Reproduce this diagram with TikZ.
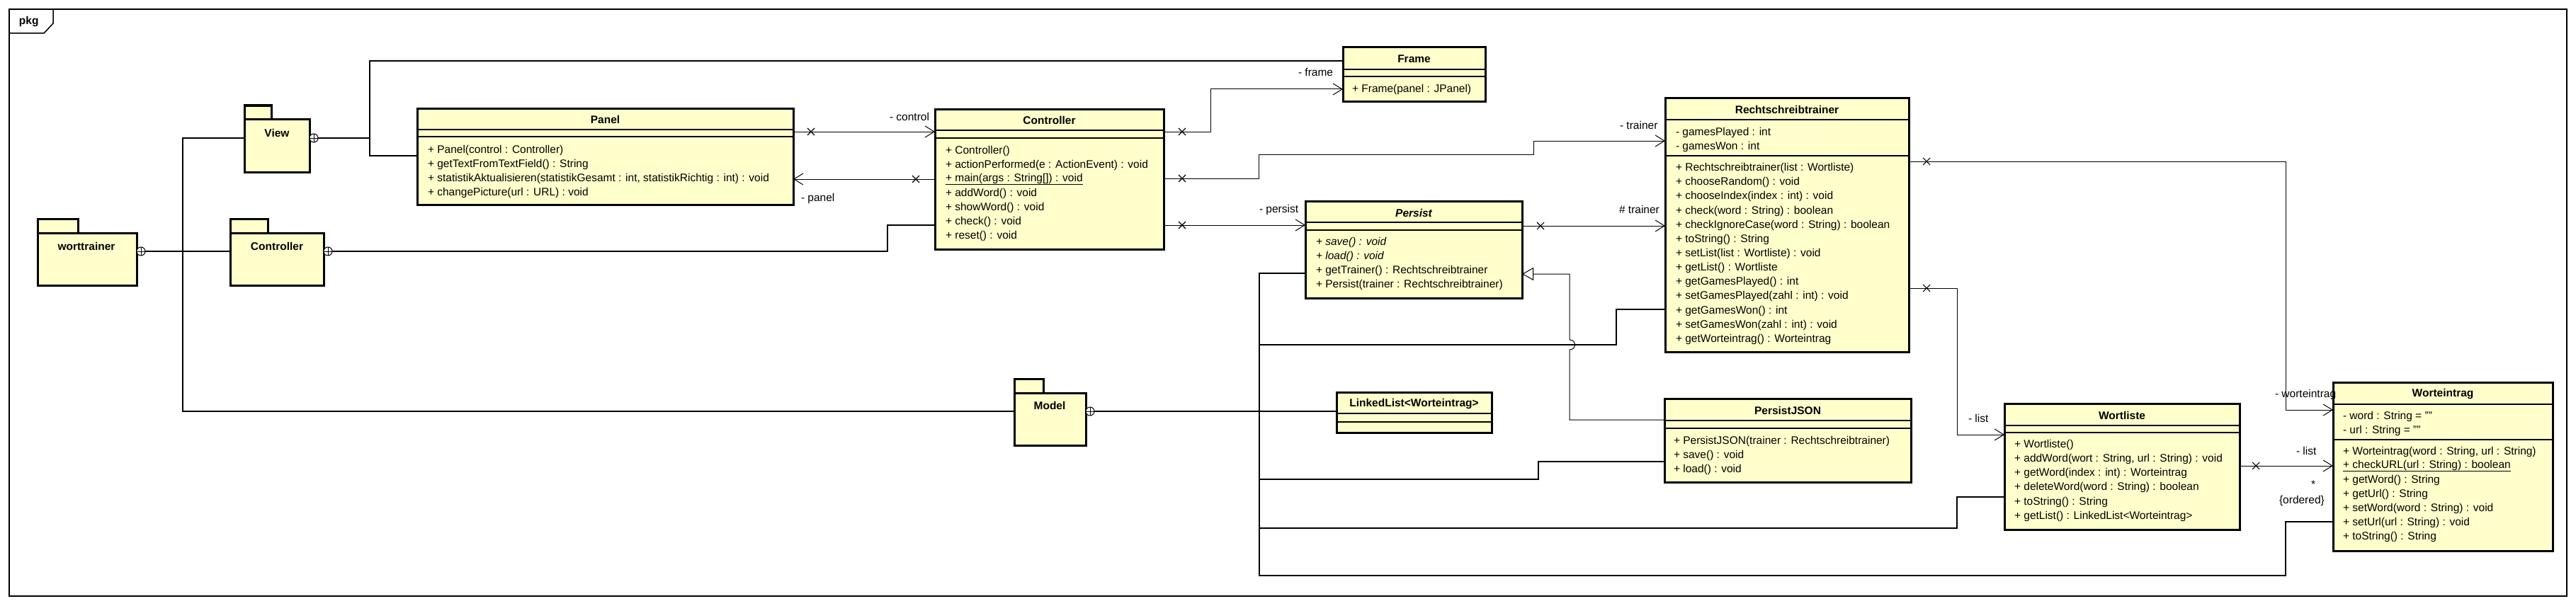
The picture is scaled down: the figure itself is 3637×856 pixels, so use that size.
\documentclass[tikz,border=0pt]{standalone}
\usepackage{fontspec}
\setmainfont{Liberation Sans}
\usetikzlibrary{arrows.meta}
\definecolor{umlfill}{HTML}{FFFFCC}
\newcommand\umlrow[4][15]{\node[mtext,xshift=#1pt] at (#2.west |- 0,#3) {#4};}
\tikzset{
  every node/.style={font=\fontsize{15.5}{18}\selectfont, inner sep=0pt, outer sep=0pt},
  classbox/.style={draw, line width=3pt, fill=umlfill, anchor=north west},
  pkgbody/.style={draw, line width=3pt, fill=umlfill, anchor=north west},
  pkgtab/.style={draw, line width=3pt, fill=umlfill},
  sepline/.style={line width=1.2pt},
  titletext/.style={font=\fontsize{15.5}{18}\selectfont\bfseries},
  mtext/.style={anchor=west},
  lbl/.style={anchor=west},
  assoc/.style={line width=1pt, -{Straight Barb[length=13pt,width=16pt]}},
  contain/.style={line width=1.3pt},
  gen/.style={line width=1pt, -{Triangle[open,length=16pt,width=18pt]}},
  xmark/.pic={\draw[line width=1.1pt] (-5pt,-5pt)--(5pt,5pt) (-5pt,5pt)--(5pt,-5pt);},
  oplus/.pic={\draw[line width=1pt,fill=white] (0,0) circle[radius=6pt];
              \draw[line width=1pt] (-6pt,0)--(6pt,0) (0,-6pt)--(0,6pt);}
}
\begin{document}
\begin{tikzpicture}[x=1pt,y=-1pt]
\useasboundingbox (0,0) rectangle (3637,856);
% outer frame
\draw[line width=1.5pt] (13,13) rectangle (3624,842);
\draw[line width=1.5pt] (13,47) -- (62,47) -- (75,33) -- (75,13);
\node[anchor=west,font=\fontsize{15.5}{18}\selectfont\bfseries] (pkglabel) at (27,31) {pkg};

% ---------- packages ----------
\draw[pkgtab] (345,149) rectangle (383,168);
\node[pkgbody, minimum width=92pt, minimum height=75pt] (view) at (345,168) {};
\node[titletext] (viewlbl) at (391,188) {View};

\draw[pkgtab] (53,309) rectangle (110,329);
\node[pkgbody, minimum width=140pt, minimum height=74pt] (wt) at (53,329) {};
\node[titletext] (wtlbl) at (122,348) {worttrainer};

\draw[pkgtab] (325,309) rectangle (378,329);
\node[pkgbody, minimum width=132pt, minimum height=74pt] (cpkg) at (325,329) {};
\node[titletext] (cpkglbl) at (391,348) {Controller};

\draw[pkgtab] (1432,535) rectangle (1473,555);
\node[pkgbody, minimum width=101pt, minimum height=74pt] (model) at (1432,555) {};
\node[titletext] (modellbl) at (1482,573) {Model};

% ---------- classes ----------
% Panel
\node[classbox, minimum width=531pt, minimum height=136pt] (panel) at (589,153) {};
\draw[sepline] (panel.west |- 0,183) -- (panel.east |- 0,183);
\draw[sepline] (panel.west |- 0,193) -- (panel.east |- 0,193);
\node[titletext] at (panel.north |- 0,169) {Panel};
\umlrow{panel}{212}{+ Panel(control : Controller)}
\umlrow{panel}{232}{+ getTextFromTextField() : String}
\umlrow{panel}{252}{+ statistikAktualisieren(statistikGesamt : int, statistikRichtig : int) : void}
\umlrow{panel}{272}{+ changePicture(url : URL) : void}

% Controller
\node[classbox, minimum width=323pt, minimum height=198pt] (ctrl) at (1320,154) {};
\draw[sepline] (ctrl.west |- 0,184) -- (ctrl.east |- 0,184);
\draw[sepline] (ctrl.west |- 0,195) -- (ctrl.east |- 0,195);
\node[titletext] at (ctrl.north |- 0,170) {Controller};
\umlrow{ctrl}{213}{+ Controller()}
\umlrow{ctrl}{233}{+ actionPerformed(e : ActionEvent) : void}
\umlrow{ctrl}{253}{\underline{+ main(args : String[]) : void}}
\umlrow{ctrl}{273}{+ addWord() : void}
\umlrow{ctrl}{293}{+ showWord() : void}
\umlrow{ctrl}{313}{+ check() : void}
\umlrow{ctrl}{333}{+ reset() : void}

% Frame
\node[classbox, minimum width=201pt, minimum height=77pt] (frame) at (1896,67) {};
\draw[sepline] (frame.west |- 0,98) -- (frame.east |- 0,98);
\draw[sepline] (frame.west |- 0,108) -- (frame.east |- 0,108);
\node[titletext] at (frame.north |- 0,83) {Frame};
\umlrow[13]{frame}{126}{+ Frame(panel : JPanel)}

% Rechtschreibtrainer
\node[classbox, minimum width=344pt, minimum height=358pt] (rst) at (2351,139) {};
\draw[sepline] (rst.west |- 0,169) -- (rst.east |- 0,169);
\draw[sepline] (rst.west |- 0,220) -- (rst.east |- 0,220);
\node[titletext] at (rst.north |- 0,155) {Rechtschreibtrainer};
\umlrow{rst}{187}{- gamesPlayed : int}
\umlrow{rst}{207}{- gamesWon : int}
\umlrow{rst}{237}{+ Rechtschreibtrainer(list : Wortliste)}
\umlrow{rst}{257}{+ chooseRandom() : void}
\umlrow{rst}{277}{+ chooseIndex(index : int) : void}
\umlrow{rst}{298}{+ check(word : String) : boolean}
\umlrow{rst}{318}{+ checkIgnoreCase(word : String) : boolean}
\umlrow{rst}{338}{+ toString() : String}
\umlrow{rst}{358}{+ setList(list : Wortliste) : void}
\umlrow{rst}{378}{+ getList() : Wortliste}
\umlrow{rst}{398}{+ getGamesPlayed() : int}
\umlrow{rst}{418}{+ setGamesPlayed(zahl : int) : void}
\umlrow{rst}{439}{+ getGamesWon() : int}
\umlrow{rst}{459}{+ setGamesWon(zahl : int) : void}
\umlrow{rst}{479}{+ getWorteintrag() : Worteintrag}

% Persist
\node[classbox, minimum width=306pt, minimum height=137pt] (persist) at (1843,284) {};
\draw[sepline] (persist.west |- 0,314) -- (persist.east |- 0,314);
\draw[sepline] (persist.west |- 0,325) -- (persist.east |- 0,325);
\node[titletext] at (persist.north |- 0,301) {\itshape Persist};
\umlrow{persist}{342}{\itshape + save() : void}
\umlrow{persist}{362}{\itshape + load() : void}
\umlrow{persist}{382}{+ getTrainer() : Rechtschreibtrainer}
\umlrow{persist}{402}{+ Persist(trainer : Rechtschreibtrainer)}

% LinkedList<Worteintrag>
\node[classbox, minimum width=219pt, minimum height=57pt] (ll) at (1887,554) {};
\draw[sepline] (ll.west |- 0,584) -- (ll.east |- 0,584);
\draw[sepline] (ll.west |- 0,596) -- (ll.east |- 0,596);
\node[titletext] at (ll.north |- 0,571) {LinkedList<Worteintrag>};

% PersistJSON
\node[classbox, minimum width=348pt, minimum height=118pt] (pjson) at (2350,563) {};
\draw[sepline] (pjson.west |- 0,594) -- (pjson.east |- 0,594);
\draw[sepline] (pjson.west |- 0,605) -- (pjson.east |- 0,605);
\node[titletext] at (pjson.north |- 0,580) {PersistJSON};
\umlrow[13]{pjson}{623}{+ PersistJSON(trainer : Rechtschreibtrainer)}
\umlrow[13]{pjson}{643}{+ save() : void}
\umlrow[13]{pjson}{663}{+ load() : void}

% Wortliste
\node[classbox, minimum width=332pt, minimum height=178pt] (wl) at (2830,570) {};
\draw[sepline] (wl.west |- 0,601) -- (wl.east |- 0,601);
\draw[sepline] (wl.west |- 0,611) -- (wl.east |- 0,611);
\node[titletext] at (wl.north |- 0,587) {Wortliste};
\umlrow[14]{wl}{628}{+ Wortliste()}
\umlrow[14]{wl}{648}{+ addWord(wort : String, url : String) : void}
\umlrow[14]{wl}{668}{+ getWord(index : int) : Worteintrag}
\umlrow[14]{wl}{688}{+ deleteWord(word : String) : boolean}
\umlrow[14]{wl}{709}{+ toString() : String}
\umlrow[14]{wl}{729}{+ getList() : LinkedList<Worteintrag>}

% Worteintrag
\node[classbox, minimum width=310pt, minimum height=238pt] (we) at (3294,540) {};
\draw[sepline] (we.west |- 0,571) -- (we.east |- 0,571);
\draw[sepline] (we.west |- 0,621) -- (we.east |- 0,621);
\node[titletext] at (we.north |- 0,557) {Worteintrag};
\umlrow[14]{we}{588}{- word : String = ""}
\umlrow[14]{we}{608}{- url : String = ""}
\umlrow[14]{we}{638}{+ Worteintrag(word : String, url : String)}
\umlrow[14]{we}{658}{\underline{+ checkURL(url : String) : boolean}}
\umlrow[14]{we}{678}{+ getWord() : String}
\umlrow[14]{we}{698}{+ getUrl() : String}
\umlrow[14]{we}{718}{+ setWord(word : String) : void}
\umlrow[14]{we}{738}{+ setUrl(url : String) : void}
\umlrow[14]{we}{758}{+ toString() : String}

% ---------- containment connectors ----------
\draw[contain] (205,355) -- (cpkg.west |- 0,355);
\draw[contain] (258,355) -- (258,195) -- (view.west |- 0,195);
\draw[contain] (258,355) -- (258,581) -- (model.west |- 0,581);
\draw[contain] (449,195) -- (522,195) -- (522,86) -- (frame.west |- 0,86);
\draw[contain] (522,195) -- (522,220) -- (panel.west |- 0,220);
\draw[contain] (469,355) -- (1253,355) -- (1253,318) -- (ctrl.west |- 0,318);
\draw[contain] (1545,581) -- (ll.west |- 0,581);
\draw[contain] (persist.west |- 0,386) -- (1778,386) -- (1778,813) -- (3227,813) -- (3227,737) -- (we.west |- 0,737);
\draw[contain] (1778,487) -- (2282,487) -- (2282,437) -- (rst.west |- 0,437);
\draw[contain] (1778,677) -- (2172,677) -- (2172,652) -- (pjson.west |- 0,652);
\draw[contain] (1778,746) -- (2763,746) -- (2763,702) -- (wl.west |- 0,702);
\pic at (199,355) {oplus};
\pic at (443,195) {oplus};
\pic at (463,355) {oplus};
\pic at (1539,581) {oplus};

% ---------- associations ----------
\draw[assoc] (panel.east |- 0,186) -- (ctrl.west |- 0,186);
\pic at (1145,186) {xmark};
\node[lbl] at (1256,165) {- control};

\draw[assoc] (ctrl.west |- 0,253) -- (panel.east |- 0,253);
\pic at (1293,253) {xmark};
\node[lbl] at (1131,280) {- panel};

\draw[assoc] (ctrl.east |- 0,186) -- (1709,186) -- (1709,126) -- (frame.west |- 0,126);
\pic at (1669,186) {xmark};
\node[lbl] at (1833,102) {- frame};

\draw[assoc] (ctrl.east |- 0,252) -- (1777,252) -- (1777,218) -- (2165,218) -- (2165,199) -- (rst.west |- 0,199);
\pic at (1669,252) {xmark};
\node[lbl] at (2287,177) {- trainer};

\draw[assoc] (ctrl.east |- 0,318) -- (persist.west |- 0,318);
\pic at (1669,318) {xmark};
\node[lbl] at (1778,296) {- persist};

\draw[assoc] (persist.east |- 0,319) -- (rst.west |- 0,319);
\pic at (2175,319) {xmark};
\node[lbl] at (2286,296) {\# trainer};

\draw[gen] (pjson.west |- 0,593) -- (2216,593) -- (2216,494) .. controls (2226,494) and (2226,480) .. (2216,480) -- (2216,387) -- (persist.east |- 0,387);

\draw[assoc] (rst.east |- 0,228) -- (3227,228) -- (3227,579) -- (we.west |- 0,579);
\pic at (2720,228) {xmark};
\node[lbl] at (3212,557) {- worteintrag};

\draw[assoc] (rst.east |- 0,407) -- (2763,407) -- (2763,614) -- (wl.west |- 0,614);
\pic at (2720,407) {xmark};
\node[lbl] at (2779,591) {- list};

\draw[assoc] (wl.east |- 0,658) -- (we.west |- 0,658);
\pic at (3185,658) {xmark};
\node[lbl] at (3242,637) {- list};
\node (mult) at (3266,684) {*};
\node[lbl] at (3218,707) {\{ordered\}};
\end{tikzpicture}
\end{document}
